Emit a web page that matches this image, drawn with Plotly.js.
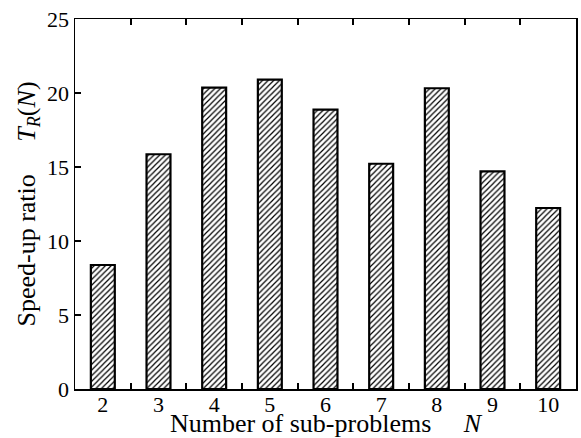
<!DOCTYPE html>
<html>
<head>
<meta charset="utf-8">
<script src="https://cdn.plot.ly/plotly-3.0.1.min.js"></script>
<style>
  html, body { margin: 0; padding: 0; background: #fff; }
  #chart { width: 581px; height: 438px; }
</style>
</head>
<body>
<div id="chart"></div>
<script>
// Number of sub-problems N and the resulting speed-up ratio T_R(N)
const subProblems = [2, 3, 4, 5, 6, 7, 8, 9, 10];
const speedUp = [8.38, 15.86, 20.36, 20.9, 18.87, 15.22, 20.32, 14.71, 12.23];
const yTicks = [0, 5, 10, 15, 20, 25];

// tick marks sit between neighbouring bars
const gapTicks = subProblems.slice(0, -1).map(n => n + 0.5);

const serif = '"Liberation Serif", serif';

const trace = {
  type: 'bar',
  x: subProblems,
  y: speedUp,
  width: 0.43,
  marker: {
    color: '#ffffff',
    line: { color: '#000000', width: 2.2 },
    pattern: { shape: '/', fgcolor: '#000000', bgcolor: '#ffffff', size: 4, solidity: 0.3 }
  },
  hoverinfo: 'x+y'
};

// invisible companion trace that carries the top axis with the between-bar ticks
const topTrace = {
  type: 'scatter',
  x: [subProblems[0]],
  y: [0],
  xaxis: 'x2',
  mode: 'markers',
  marker: { opacity: 0 },
  hoverinfo: 'skip'
};

const frame = { showgrid: false, zeroline: false, showline: true, linecolor: '#000000', linewidth: 1.5 };
const tickStyle = { ticks: 'inside', ticklen: 6, tickwidth: 2, tickcolor: '#000000' };

const layout = {
  width: 581,
  height: 438,
  margin: { l: 75, r: 5, t: 19, b: 49 },
  paper_bgcolor: '#ffffff',
  plot_bgcolor: '#ffffff',
  showlegend: false,
  font: { family: serif, size: 22, color: '#000000' },
  xaxis: Object.assign({
    range: [1.5, 10.5],
    tickvals: subProblems,
    ticktext: subProblems.map(String),
    ticks: '',
    ticklabelstandoff: -5,
    minor: Object.assign({ tickvals: gapTicks, showgrid: false }, tickStyle),
    title: { text: 'Number of sub-problems\u2003\u2005<i>N</i>', standoff: 4 }
  }, frame),
  xaxis2: Object.assign({
    overlaying: 'x',
    side: 'top',
    range: [1.5, 10.5],
    tickvals: gapTicks,
    showticklabels: false
  }, frame, tickStyle),
  yaxis: Object.assign({
    range: [0, 25],
    tickvals: yTicks,
    mirror: true,
    title: { text: 'Speed-up ratio\u2003\u2005<i>T<sub>R</sub></i>(<i>N</i>)', standoff: 4 }
  }, frame, tickStyle)
};

Plotly.newPlot('chart', [trace, topTrace], layout, { displayModeBar: false, staticPlot: true });
</script>
</body>
</html>
